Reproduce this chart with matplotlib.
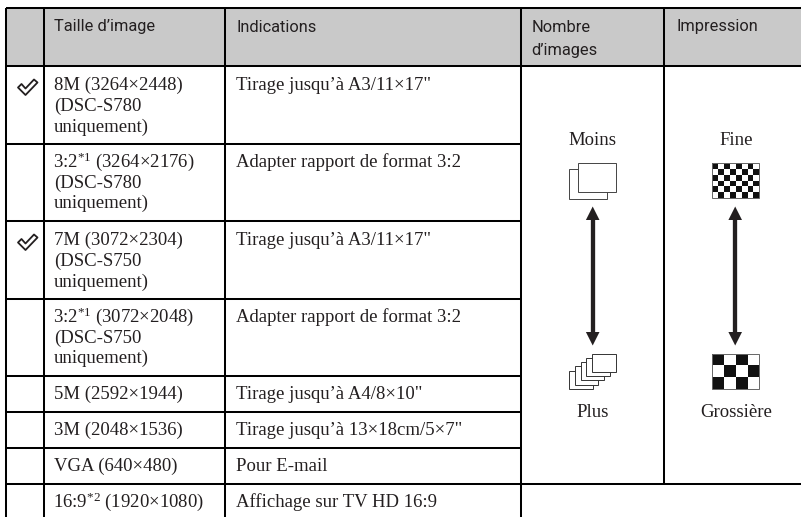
import matplotlib
matplotlib.use("Agg")
import matplotlib.pyplot as plt
from matplotlib.patches import Rectangle, Polygon

W, H = 801, 517

headers = ["Taille d\u2019image", "Indications", "Nombre\nd\u2019images", "Impression"]
header_x = [54, 236.5, 531.5, 676]
sizes = [
    "8M (3264\u00d72448)\n(DSC-S780\nuniquement)",
    "3:2$^{*1}$ (3264\u00d72176)\n(DSC-S780\nuniquement)",
    "7M (3072\u00d72304)\n(DSC-S750\nuniquement)",
    "3:2$^{*1}$ (3072\u00d72048)\n(DSC-S750\nuniquement)",
    "5M (2592\u00d71944)",
    "3M (2048\u00d71536)",
    "VGA (640\u00d7480)",
    "16:9$^{*2}$ (1920\u00d71080)",
]
indications = [
    "Tirage jusqu\u2019\u00e0 A3/11\u00d717\"",
    "Adapter rapport de format 3:2",
    "Tirage jusqu\u2019\u00e0 A3/11\u00d717\"",
    "Adapter rapport de format 3:2",
    "Tirage jusqu\u2019\u00e0 A4/8\u00d710\"",
    "Tirage jusqu\u2019\u00e0 13\u00d718cm/5\u00d77\"",
    "Pour E-mail",
    "Affichage sur TV HD 16:9",
]
row_top = [66, 144, 221, 299, 376, 412, 448, 484]
checked = [0, 2]

plt.rcParams['font.family'] = ['Liberation Serif', 'DejaVu Serif']
plt.rcParams['mathtext.fontset'] = 'custom'
plt.rcParams['mathtext.rm'] = 'Liberation Serif'
plt.rcParams['mathtext.it'] = 'Liberation Serif'
plt.rcParams['mathtext.default'] = 'rm'

fig = plt.figure(figsize=(W / 100, H / 100), dpi=100)
ax = fig.add_axes([0, 0, 1, 1])
ax.set_xlim(0, W)
ax.set_ylim(H, 0)
ax.axis("off")

LW = 1.45
BODY = 13.5
HEAD = 11.8
INK = "#231f20"
head_font = ['Roboto', 'Liberation Sans']

# header band and grid
ax.add_patch(Rectangle((6, 8), W - 6, 58, fc="#c9c9c9", ec="none", zorder=0))
ax.plot([6, W], [8, 8], color="k", lw=LW, solid_capstyle="butt")
ax.plot([6, W], [65.7, 65.7], color="k", lw=LW, solid_capstyle="butt")
ax.plot([6, W], [484, 484], color="k", lw=LW, solid_capstyle="butt")
for y in row_top[1:-1]:
    ax.plot([6, 521], [y, y], color="k", lw=LW, solid_capstyle="butt")
for x in [6, 44, 225, 521]:
    ax.plot([x, x], [8, H], color="k", lw=LW, solid_capstyle="butt")
ax.plot([664, 664], [8, 484], color="k", lw=LW, solid_capstyle="butt")

for x, label in zip(header_x, headers):
    for n, part in enumerate(label.split("\n")):
        ax.text(x, 31.5 + n * 23, part, family=head_font, fontsize=HEAD, color=INK, va="baseline")

for i, (y, s, ind) in enumerate(zip(row_top, sizes, indications)):
    base = y + (24.3 if i in checked else 22.7)
    for n, part in enumerate(s.split("\n")):
        x = 53.2 if "$" in part else 54
        ax.text(x, base + n * 20.8, part, fontsize=BODY, color=INK, va="baseline")
    ax.text(236.3, base, ind, fontsize=BODY, color=INK, va="baseline")


def check(y):
    outer = [(18, y + 8), (21.5, y + 4.5), (25.5, y + 9), (34, y), (37.5, y + 3), (25.5, y + 15.5)]
    ax.add_patch(Polygon(outer, closed=True, fc="white", ec=INK, lw=1.3, joinstyle="round", zorder=3))


for i in checked:
    check(row_top[i] + 13.5)

ax.text(592.3, 145, "Moins", fontsize=BODY, color=INK, ha="center", va="baseline")
ax.text(736, 145, "Fine", fontsize=BODY, color=INK, ha="center", va="baseline")
ax.text(592.3, 416.7, "Plus", fontsize=BODY, color=INK, ha="center", va="baseline")
ax.text(735.7, 416.7, "Grossi\u00e8re", fontsize=BODY, color=INK, ha="center", va="baseline")

# stacked sheet icons
ax.add_patch(Rectangle((569, 168.5), 38, 30, fc="white", ec="#444444", lw=0.7))
ax.add_patch(Rectangle((577.7, 162.7), 38, 29.6, fc="white", ec="#444444", lw=0.7, zorder=3))
for k in range(5):
    ax.add_patch(Rectangle((569 + k * 5.75, 370.7 - k * 4.25), 23.7, 18.2, fc="white", ec="#333333", lw=0.7, zorder=3 + k))


def checker(x0, y0, w, h, nx, ny):
    for r in range(ny):
        for c in range(nx):
            if (r + c) % 2 == 0:
                ax.add_patch(Rectangle((x0 + c * w / nx, y0 + r * h / ny), w / nx, h / ny, fc="#111111", ec="none"))
    ax.add_patch(Rectangle((x0, y0), w, h, fc="none", ec="#666666", lw=0.7))


checker(712.3, 162.7, 47, 35.6, 8, 6)
checker(712.3, 353.7, 47, 35.3, 4, 3)

# double arrows
for x in [592.7, 735.2]:
    ax.plot([x, x], [215, 338], color=INK, lw=3.1, solid_capstyle="butt")
    ax.add_patch(Polygon([(x - 6.8, 220), (x + 6.8, 220), (x, 206.5)], closed=True, fc=INK, ec="none"))
    ax.add_patch(Polygon([(x - 6.8, 332), (x + 6.8, 332), (x, 345.5)], closed=True, fc=INK, ec="none"))

fig.savefig("out.png", dpi=100)
